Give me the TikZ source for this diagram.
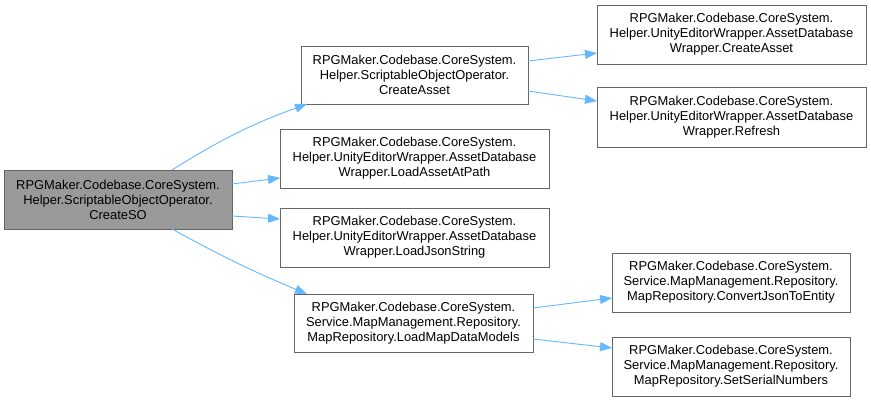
\documentclass[tikz,border=0pt]{standalone}
\usepackage{fontspec}
\setmainfont{Liberation Sans}
\usepackage{tikz}
\usetikzlibrary{arrows.meta,calc,positioning}

\definecolor{edgeblue}{HTML}{63B8FF}
\definecolor{boxline}{HTML}{666666}
\definecolor{focusfill}{HTML}{999999}

\tikzset{
    func/.style={draw=boxline, line width=0.9pt, fill=white, align=center,
        inner sep=0pt, outer sep=0pt, font=\fontsize{12.9}{15}\selectfont},
    focus/.style={func, fill=focusfill},
    call/.style={draw=edgeblue, line width=0.9pt,
        -{Triangle[length=12pt,width=9pt]}}
}

\begin{document}
\begin{tikzpicture}[x=1pt, y=-1pt]
    \useasboundingbox (0, 0) rectangle (871, 400);
    \node[focus, minimum width=228, minimum height=59] (so) at (118, 199.5)
        {RPGMaker.Codebase.CoreSystem.\\Helper.ScriptableObjectOperator.\\CreateSO};
    \node[func, minimum width=227, minimum height=58] (ca) at (414.5, 75)
        {RPGMaker.Codebase.CoreSystem.\\Helper.ScriptableObjectOperator.\\CreateAsset};
    \node[func, minimum width=269, minimum height=59] (adca) at (731.5, 34.5)
        {RPGMaker.Codebase.CoreSystem.\\Helper.UnityEditorWrapper.AssetDatabase\\Wrapper.CreateAsset};
    \node[func, minimum width=269, minimum height=60] (adrf) at (731.5, 117)
        {RPGMaker.Codebase.CoreSystem.\\Helper.UnityEditorWrapper.AssetDatabase\\Wrapper.Refresh};
    \node[func, minimum width=269, minimum height=59] (adlp) at (414.5, 158.5)
        {RPGMaker.Codebase.CoreSystem.\\Helper.UnityEditorWrapper.AssetDatabase\\Wrapper.LoadAssetAtPath};
    \node[func, minimum width=269, minimum height=59] (adlj) at (414.5, 237.5)
        {RPGMaker.Codebase.CoreSystem.\\Helper.UnityEditorWrapper.AssetDatabase\\Wrapper.LoadJsonString};
    \node[func, minimum width=239, minimum height=58] (lmd) at (413.5, 323)
        {RPGMaker.Codebase.CoreSystem.\\Service.MapManagement.Repository.\\MapRepository.LoadMapDataModels};
    \node[func, minimum width=238, minimum height=59] (cje) at (731, 282.5)
        {RPGMaker.Codebase.CoreSystem.\\Service.MapManagement.Repository.\\MapRepository.ConvertJsonToEntity};
    \node[func, minimum width=238, minimum height=59] (ssn) at (731, 366.5)
        {RPGMaker.Codebase.CoreSystem.\\Service.MapManagement.Repository.\\MapRepository.SetSerialNumbers};
    \draw[call] ($(so.north)+(54, 0)$) to[bend left=6] ($(ca.south west)+(6, 0)$);
    \draw[call] ($(so.east)+(0, -15.5)$) -- ($(adlp.west)+(0, 19.5)$);
    \draw[call] ($(so.east)+(0, 16.5)$) -- ($(adlj.west)+(0, -18.5)$);
    \draw[call] ($(so.south)+(54, 0)$) to[bend right=3] ($(lmd.north west)+(13, 0)$);
    \draw[call] ($(ca.east)+(0, -14)$) -- ($(adca.west)+(0, 18.5)$);
    \draw[call] ($(ca.east)+(0, 16)$) -- ($(adrf.west)+(0, -16)$);
    \draw[call] ($(lmd.east)+(0, -15)$) -- ($(cje.west)+(0, 15.5)$);
    \draw[call] ($(lmd.east)+(0, 16)$) -- ($(ssn.west)+(0, -18.5)$);
\end{tikzpicture}
\end{document}
